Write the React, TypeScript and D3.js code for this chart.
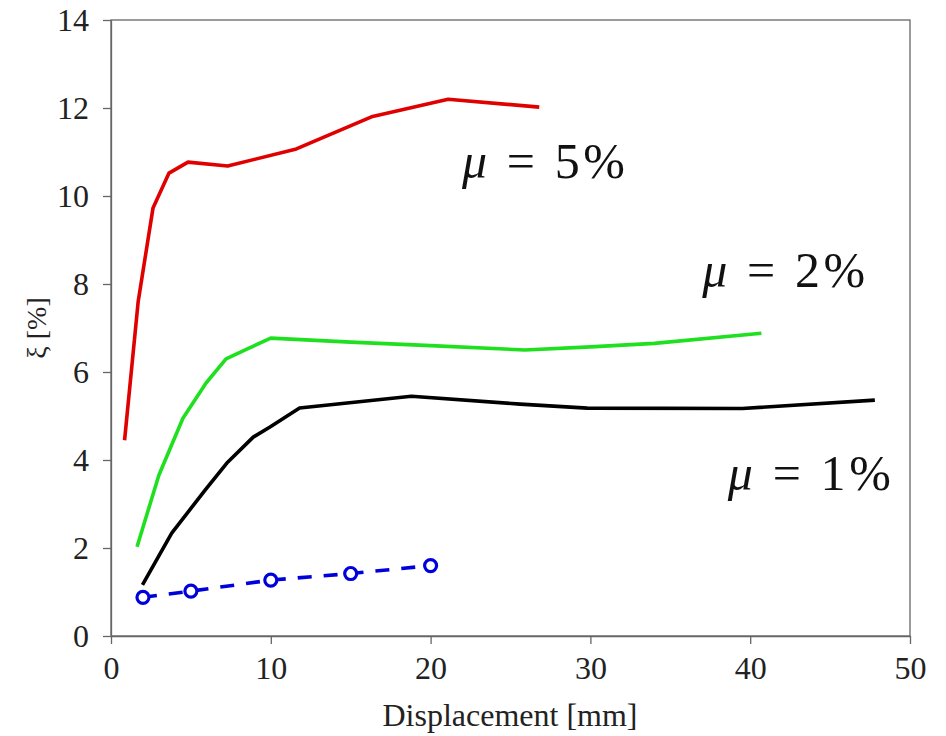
import React, { useRef, useEffect } from 'react';
import * as d3 from 'd3';

// series: [displacement mm, xi %]
const mu5 = [[0.85, 4.45], [1.7, 7.6], [2.63, 9.73], [3.63, 10.52], [4.82, 10.77], [7.3, 10.68], [11.6, 11.07], [16.3, 11.8], [21.1, 12.2], [26.8, 12.02]];
const mu2 = [[1.63, 2.03], [3.0, 3.66], [4.5, 4.95], [5.95, 5.75], [7.2, 6.3], [8.5, 6.52], [10.0, 6.77], [15, 6.68], [20, 6.6], [25.9, 6.5], [30, 6.57], [34, 6.65], [40.7, 6.88]];
const mu1 = [[1.97, 1.16], [3.8, 2.34], [5.9, 3.32], [7.3, 3.95], [8.9, 4.52], [9.95, 4.75], [11.8, 5.18], [18.8, 5.45], [25.6, 5.27], [29.8, 5.18], [39.5, 5.17], [47.8, 5.36]];
const mu0 = [[2, 0.88], [5, 1.02], [10, 1.27], [15, 1.42], [20, 1.6]];

const xTicks = [0, 10, 20, 30, 40, 50];
const yTicks = [0, 2, 4, 6, 8, 10, 12, 14];

const labels = [
  { pct: '5%', x: 21.96, y: 10.4 },
  { pct: '2%', x: 37.0, y: 7.93 },
  { pct: '1%', x: 38.6, y: 3.32 },
];

export default function App() {
  const ref = useRef<SVGSVGElement>(null);

  useEffect(() => {
    const svg = d3.select(ref.current);
    svg.selectAll('*').remove();

    const left = 111, right = 910, top = 20, bottom = 636;
    const x = d3.scaleLinear().domain([0, 50]).range([left, right]);
    const y = d3.scaleLinear().domain([0, 14]).range([bottom, top]);
    const font = 'Liberation Serif, serif';

    // box
    svg.append('rect')
      .attr('x', left).attr('y', top)
      .attr('width', right - left).attr('height', bottom - top)
      .attr('fill', 'none').attr('stroke', '#666').attr('stroke-width', 1.3);

    const xAxis = svg.append('g').attr('transform', `translate(0,${bottom})`)
      .call(d3.axisBottom(x).tickValues(xTicks).tickSize(8).tickSizeOuter(0).tickPadding(12));
    const yAxis = svg.append('g').attr('transform', `translate(${left},0)`)
      .call(d3.axisLeft(y).tickValues(yTicks).tickSize(8).tickSizeOuter(0).tickPadding(14));
    [xAxis, yAxis].forEach(a => {
      a.attr('font-family', null).attr('font-size', null);
      a.select('.domain').attr('stroke', '#666').attr('stroke-width', 1.3);
      a.selectAll('line').attr('stroke', '#666').attr('stroke-width', 1.3);
      a.selectAll('text').style('font-family', font).style('font-size', '32px').attr('fill', '#222');
    });

    svg.append('text')
      .attr('x', 510).attr('y', 726)
      .attr('text-anchor', 'middle')
      .style('font-family', font).style('font-size', '32px').attr('fill', '#222')
      .text('Displacement [mm]');

    svg.append('text')
      .attr('transform', `translate(46,${y(7)}) rotate(-90)`)
      .attr('text-anchor', 'middle')
      .style('font-family', font).style('font-size', '28px').attr('fill', '#222')
      .text('ξ [%]');

    const line = d3.line<number[]>().x(d => x(d[0])).y(d => y(d[1]));

    const series = [
      { data: mu5, color: '#e00000' },
      { data: mu2, color: '#1fe01f' },
      { data: mu1, color: '#000000' },
    ];
    series.forEach(s => {
      svg.append('path').datum(s.data)
        .attr('d', line)
        .attr('fill', 'none').attr('stroke', s.color)
        .attr('stroke-width', 3.6).attr('stroke-linejoin', 'round');
    });

    svg.append('path').datum(mu0)
      .attr('d', line)
      .attr('fill', 'none').attr('stroke', '#0000dd')
      .attr('stroke-width', 3.6).attr('stroke-dasharray', '14 12');
    svg.selectAll('circle.m').data(mu0).enter().append('circle')
      .attr('cx', d => x(d[0])).attr('cy', d => y(d[1])).attr('r', 6)
      .attr('fill', 'white').attr('stroke', '#0000dd').attr('stroke-width', 3.2);

    labels.forEach(l => {
      const t = svg.append('text')
        .attr('x', x(l.x)).attr('y', y(l.y))
        .style('font-family', font).style('font-size', '50px').attr('fill', '#111')
        .attr('textLength', 163).attr('lengthAdjust', 'spacing');
      t.append('tspan').style('font-style', 'italic').text('μ');
      t.append('tspan').text(' = ' + l.pct);
    });
  }, []);

  return (
    <svg ref={ref} width={946} height={736}
      style={{ position: 'absolute', left: 0, top: 0, background: 'white' }} />
  );
}
